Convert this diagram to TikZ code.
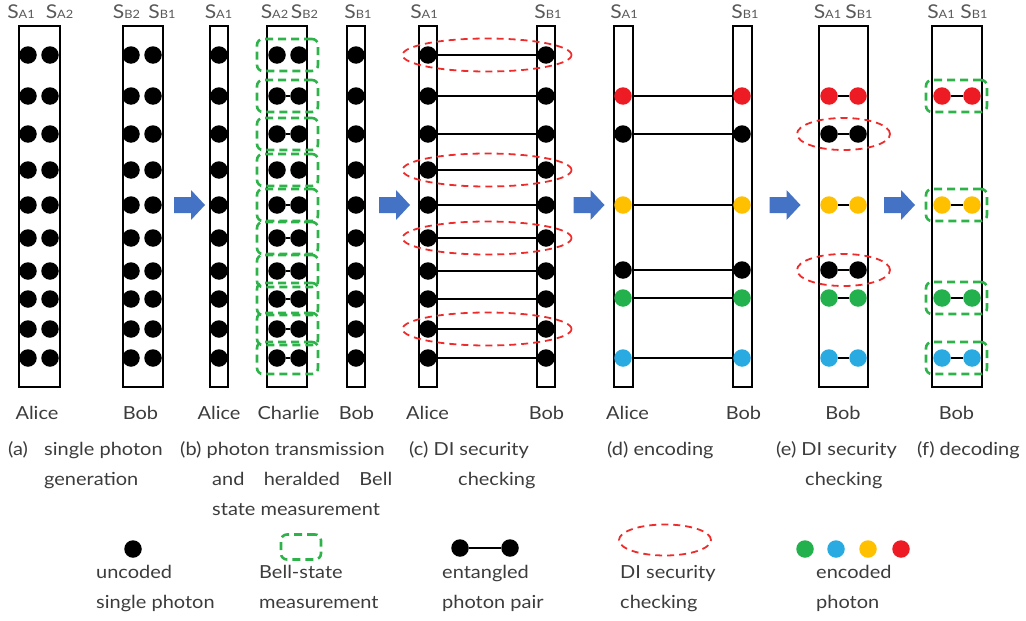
\documentclass[tikz,border=0pt]{standalone}
\usepackage{fontspec}
\setmainfont{Lato}[FakeStretch=1.11]
\usetikzlibrary{shapes.geometric}
\definecolor{tgray}{HTML}{3C3C3C}
\definecolor{sgray}{HTML}{595959}
\definecolor{mred}{HTML}{ED1C24}
\definecolor{myel}{HTML}{FFC000}
\definecolor{mgrn}{HTML}{22B14C}
\definecolor{mblu}{HTML}{29ABE2}
\definecolor{bgrn}{HTML}{2DB34A}
\definecolor{ered}{HTML}{EE2C2C}
\definecolor{arrc}{HTML}{4472C4}
\newcommand{\SL}[1]{{\fontsize{19}{19}\selectfont S}{\fontsize{11.5}{11.5}\selectfont #1}}
\begin{document}
\begin{tikzpicture}[x=1pt,y=-1pt,
  lane/.style={draw=black, line width=2pt},
  ph/.style={circle, fill=#1, inner sep=0pt, minimum size=17.5pt},
  ph/.default=black,
  link/.style={line width=1.8pt},
  bsm/.style={draw=bgrn, line width=2.6pt, dash pattern=on 8pt off 5pt, rounded corners=6pt, inner sep=0pt, minimum width=61pt, minimum height=32pt},
  dic/.style={draw=ered, line width=1.8pt, dash pattern=on 7pt off 5pt, ellipse, inner sep=0pt},
  blockarrow/.style={fill=arrc},
  lbl/.style={text=tgray, font=\fontsize{18}{18}\selectfont, inner sep=0pt},
  slbl/.style={text=sgray, inner sep=0pt, anchor=base},
]
\useasboundingbox (0,0) rectangle (1026,621);

% ---------- lanes ----------
\draw[lane] (19,26) rectangle (60,387);
\draw[lane] (123,26) rectangle (163,387);
\draw[lane] (210,26) rectangle (228,387);
\draw[lane] (267,26) rectangle (307,387);
\draw[lane] (347,26) rectangle (365,387);
\draw[lane] (419,26) rectangle (437,387);
\draw[lane] (537,26) rectangle (555,387);
\draw[lane] (614,26) rectangle (633,387);
\draw[lane] (733,26) rectangle (752,387);
\draw[lane] (819,26) rectangle (868,387);
\draw[lane] (932,26) rectangle (982,387);

% ---------- top labels ----------
\node[slbl] (ta1) at (21,19) {\SL{A1}};
\node[slbl] (ta2) at (59.5,19) {\SL{A2}};
\node[slbl] (tb2) at (126.5,19) {\SL{B2}};
\node[slbl] (tb1) at (162,19) {\SL{B1}};
\node[slbl] (tba1) at (218.5,19) {\SL{A1}};
\node[slbl] (tba2) at (274.5,19) {\SL{A2}};
\node[slbl] (tbb2) at (304.5,19) {\SL{B2}};
\node[slbl] (tbb1) at (358,19) {\SL{B1}};
\node[slbl] (tca1) at (424,19) {\SL{A1}};
\node[slbl] (tcb1) at (548,19) {\SL{B1}};
\node[slbl] (tda1) at (624,19) {\SL{A1}};
\node[slbl] (tdb1) at (745,19) {\SL{B1}};
\node[slbl] (tea1) at (827.5,19) {\SL{A1}};
\node[slbl] (teb1) at (859,19) {\SL{B1}};
\node[slbl] (tfa1) at (941,19) {\SL{A1}};
\node[slbl] (tfb1) at (974,19) {\SL{B1}};

% ---------- panel (a) and (b) and (c) dots ----------
\foreach \y [count=\i] in {55,96,134,170,205,238,271,299,329,358} {
  \node[ph] (a1-\i) at (28,\y) {};
  \node[ph] (a2-\i) at (50,\y) {};
  \node[ph] (b2-\i) at (131,\y) {};
  \node[ph] (b1-\i) at (153,\y) {};
  \node[ph] (ba-\i) at (219,\y) {};
  \node[ph] (bc1-\i) at (277,\y) {};
  \node[ph] (bc2-\i) at (299,\y) {};
  \node[ph] (bb-\i) at (356,\y) {};
  \node[ph] (ca-\i) at (428,\y) {};
  \node[ph] (cb-\i) at (546,\y) {};
  \draw[link] (ca-\i) -- (cb-\i);
  \node[bsm] (bs-\i) at (287.5,\y) {};
}
\foreach \i in {2,3,5,6,7,8,9,10} { \draw[link] (bc1-\i) -- (bc2-\i); }

% ---------- panel (d), (e), (f) ----------
\foreach \y/\c [count=\i] in {96/mred,134/black,205/myel,270/black,298/mgrn,358/mblu} {
  \node[ph=\c] (da-\i) at (623,\y) {};
  \node[ph=\c] (db-\i) at (742,\y) {};
  \draw[link] (da-\i) -- (db-\i);
  \node[ph=\c] (ea-\i) at (829,\y) {};
  \node[ph=\c] (eb-\i) at (858,\y) {};
  \draw[link] (ea-\i) -- (eb-\i);
}
\foreach \y/\c [count=\i] in {96/mred,205/myel,298/mgrn,358/mblu} {
  \node[ph=\c] (fa-\i) at (942,\y) {};
  \node[ph=\c] (fb-\i) at (972,\y) {};
  \draw[link] (fa-\i) -- (fb-\i);
  \node[bsm] (fs-\i) at (956.5,\y) {};
}

% ---------- DI security checking ellipses ----------
\foreach \y [count=\i] in {55,170,238,329} {
  \node[dic, minimum width=169pt, minimum height=33pt] (ce-\i) at (487,\y) {};
}
\node[dic, minimum width=93pt, minimum height=32pt] (ee-1) at (843.5,134) {};
\node[dic, minimum width=93pt, minimum height=32pt] (ee-2) at (843.5,270) {};

% ---------- block arrows ----------
\foreach \x in {174,379,573.5,769.5,884} {
  \fill[blockarrow] (\x,197) -- ++(17,0) -- ++(0,-7) -- ++(14,15) -- ++(-14,15) -- ++(0,-7) -- ++(-17,0) -- cycle;
}

% ---------- bottom names ----------
\foreach \x/\t/\n in {37/Alice/na1,140.5/Bob/nb1,219/Alice/na2,288.5/Charlie/nc2,356.5/Bob/nb2,427.5/Alice/na3,546.5/Bob/nb3,627.5/Alice/na4,743.5/Bob/nb4,843/Bob/nb5,956.5/Bob/nb6} {
  \node[lbl, anchor=base] (\n) at (\x,419) {\t};
}

% ---------- captions ----------
\node[lbl, anchor=base west] (capa) at (8,455) {(a)};
\node[lbl, anchor=base west] (capa1) at (44,455) {single photon};
\node[lbl, anchor=base west] (capa2) at (44,485) {generation};
\node[lbl, anchor=base west] (capb) at (180,455) {(b) photon transmission};
\node[lbl, anchor=base west] (capb2) at (212,485) {\makebox[180pt][s]{and heralded Bell}};
\node[lbl, anchor=base west] (capb3) at (212,515) {state measurement};
\node[lbl, anchor=base west] (capc) at (409,455) {(c) DI security};
\node[lbl, anchor=base west] (capc2) at (458,485) {checking};
\node[lbl, anchor=base west] (capd) at (607,455) {(d) encoding};
\node[lbl, anchor=base west] (cape) at (776,455) {(e) DI security};
\node[lbl, anchor=base west] (cape2) at (805,485) {checking};
\node[lbl, anchor=base west] (capf) at (917,455) {(f) decoding};

% ---------- legend ----------
\node[ph] (lg1) at (133,549) {};
\node[lbl, anchor=base west] (lt1a) at (96,578) {uncoded};
\node[lbl, anchor=base west] (lt1b) at (96,608) {single photon};
\node[bsm, minimum width=40pt, minimum height=25pt] (lg2) at (301,547) {};
\node[lbl, anchor=base west] (lt2a) at (259,578) {Bell-state};
\node[lbl, anchor=base west] (lt2b) at (259,608) {measurement};
\node[ph] (lg3a) at (460,548) {};
\node[ph] (lg3b) at (510,548) {};
\draw[link] (lg3a) -- (lg3b);
\node[lbl, anchor=base west] (lt3a) at (442,578) {entangled};
\node[lbl, anchor=base west] (lt3b) at (442,608) {photon pair};
\node[dic, minimum width=92pt, minimum height=31pt] (lg4) at (665,540) {};
\node[lbl, anchor=base west] (lt4a) at (620,578) {DI security};
\node[lbl, anchor=base west] (lt4b) at (620,608) {checking};
\node[ph=mgrn] (lg5a) at (805,549) {};
\node[ph=mblu] (lg5b) at (836,549) {};
\node[ph=myel] (lg5c) at (868,549) {};
\node[ph=mred] (lg5d) at (901,549) {};
\node[lbl, anchor=base west] (lt5a) at (816,578) {encoded};
\node[lbl, anchor=base west] (lt5b) at (816,608) {photon};
\end{tikzpicture}
\end{document}
